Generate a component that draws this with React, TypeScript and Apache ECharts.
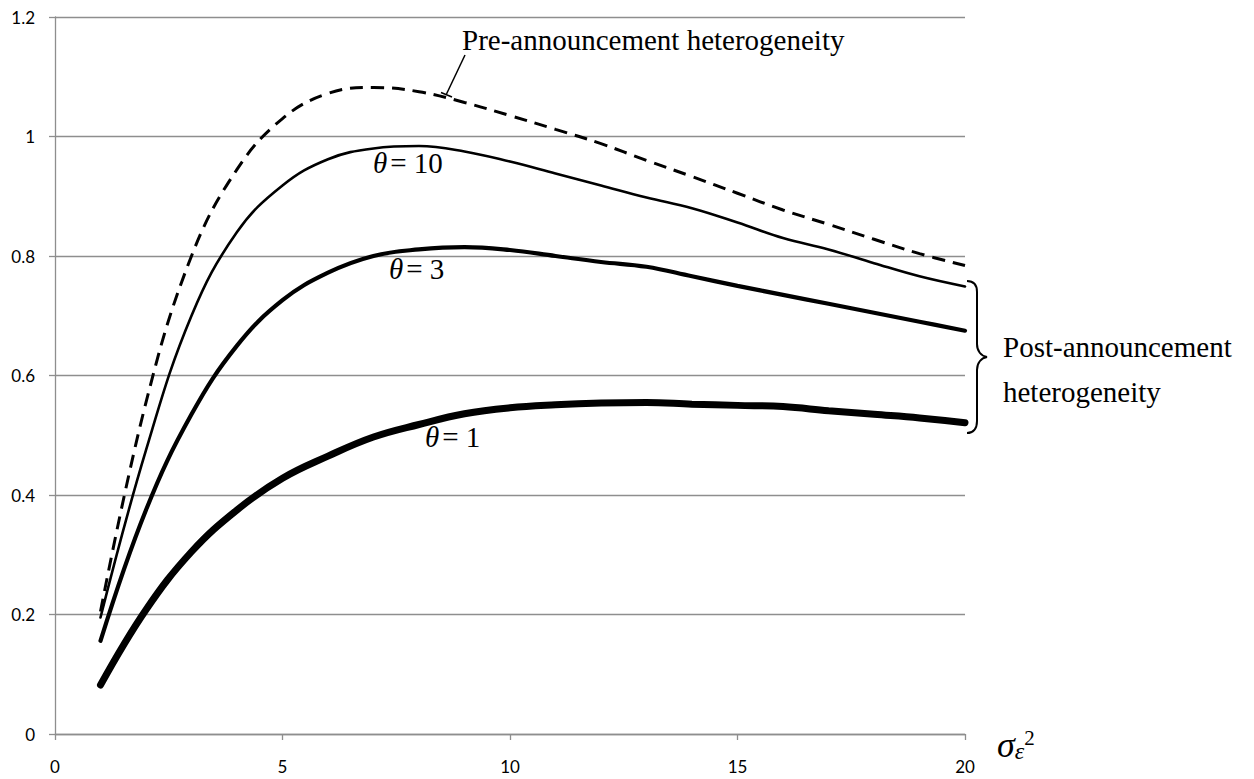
import React, { useEffect, useRef } from "react";
import * as echarts from "echarts";

const xValues = [1, 2, 3, 4, 5, 6, 7, 8, 9, 10, 11, 12, 13, 14, 15, 16, 17, 18, 19, 20];
const preAnnouncement = [0.205, 0.555, 0.8, 0.945, 1.03, 1.072, 1.082, 1.075, 1.057, 1.035, 1.012, 0.988, 0.96, 0.933, 0.905, 0.877, 0.853, 0.828, 0.804, 0.784];
const theta10 = [0.195, 0.475, 0.7, 0.84, 0.918, 0.962, 0.98, 0.984, 0.975, 0.958, 0.938, 0.918, 0.898, 0.88, 0.856, 0.83, 0.811, 0.788, 0.766, 0.749];
const theta3 = [0.156, 0.375, 0.535, 0.65, 0.726, 0.772, 0.8, 0.811, 0.815, 0.81, 0.8, 0.79, 0.782, 0.766, 0.75, 0.735, 0.72, 0.705, 0.69, 0.675];
const theta1 = [0.082, 0.208, 0.305, 0.375, 0.428, 0.465, 0.497, 0.518, 0.536, 0.546, 0.551, 0.554, 0.555, 0.552, 0.55, 0.548, 0.541, 0.535, 0.529, 0.521];

const BRACE_D =
  "M 967 281 C 973 281 977 284 977 292 L 977 344 C 977 351 981 356 987 357 C 981 358 977 363 977 370 L 977 421 C 977 429 973 433 967 433";

let braceRegistered = false;
function registerBrace() {
  if (braceRegistered) return;
  echarts.graphic.registerShape("brace", echarts.graphic.extendPath(BRACE_D, {}));
  braceRegistered = true;
}

const SERIF = "Liberation Serif";
const SANS = "Lato";
const GRID_GRAY = "#8e8e8e";

function toPairs(ys: number[]) {
  return xValues.map((x, i) => [x, ys[i]]);
}

function thetaLabel(value: string, left: number, centerY: number) {
  return {
    type: "text",
    x: left,
    y: centerY,
    style: {
      text: "{i|θ}{n|= " + value + "}",
      verticalAlign: "middle",
      align: "left",
      rich: {
        i: { fontFamily: SERIF, fontSize: 29, fontStyle: "italic", fill: "#000", padding: [0, 3, 0, 0] },
        n: { fontFamily: SERIF, fontSize: 29, fill: "#000" },
      },
    },
  };
}

function serifText(text: string, left: number, centerY: number) {
  return {
    type: "text",
    x: left,
    y: centerY,
    style: {
      text,
      fontFamily: SERIF,
      fontSize: 29,
      fill: "#000",
      verticalAlign: "middle",
      align: "left",
    },
  };
}

export default function App() {
  const ref = useRef<HTMLDivElement>(null);

  useEffect(() => {
    if (!ref.current) return;
    registerBrace();
    const chart = echarts.init(ref.current, null, { renderer: "svg" });
    const lineBase = { type: "line", symbol: "none", smooth: 0.4 };
    const option: any = {
      animation: false,
      backgroundColor: "#fff",
      grid: { left: 55, right: 289, top: 17, bottom: 45, containLabel: false },
      xAxis: {
        type: "value",
        min: 0,
        max: 20,
        interval: 5,
        axisLine: { show: true, lineStyle: { color: GRID_GRAY, width: 1.3 } },
        axisTick: { show: true, length: 6, inside: false, lineStyle: { color: GRID_GRAY, width: 1.3 } },
        splitLine: { show: false },
        axisLabel: { fontFamily: SANS, fontSize: 17, color: "#000", margin: 24 },
      },
      yAxis: {
        type: "value",
        min: 0,
        max: 1.2,
        interval: 0.2,
        axisLine: { show: true, lineStyle: { color: GRID_GRAY, width: 1.3 } },
        axisTick: { show: true, length: 6, inside: false, lineStyle: { color: GRID_GRAY, width: 1.3 } },
        splitLine: { show: true, lineStyle: { color: GRID_GRAY, width: 1.3 } },
        axisLabel: { fontFamily: SANS, fontSize: 17, color: "#000", margin: 20, padding: [6, 0, 0, 0] },
      },
      series: [
        { ...lineBase, data: toPairs(theta1), lineStyle: { color: "#000", width: 7, cap: "round" }, z: 2 },
        { ...lineBase, data: toPairs(theta3), lineStyle: { color: "#000", width: 4.2, cap: "round" }, z: 3 },
        { ...lineBase, data: toPairs(theta10), lineStyle: { color: "#000", width: 2.6, cap: "round" }, z: 4 },
        { ...lineBase, data: toPairs(preAnnouncement), lineStyle: { color: "#000", width: 3, type: [13, 8] }, z: 5 },
      ],
      graphic: [
        serifText("Pre-announcement heterogeneity", 462, 40),
        {
          type: "line",
          shape: { x1: 465, y1: 55, x2: 446.5, y2: 94 },
          style: { stroke: "#000", lineWidth: 1.5 },
        },
        {
          type: "line",
          shape: { x1: 441, y1: 92.5, x2: 452, y2: 97 },
          style: { stroke: "#000", lineWidth: 1.5 },
        },
        thetaLabel("10", 373, 163),
        thetaLabel("3", 389, 268.5),
        thetaLabel("1", 425, 437),
        {
          type: "brace",
          x: 0,
          y: 0,
          style: { stroke: "#000", fill: null, lineWidth: 2 },
        },
        serifText("Post-announcement", 1003, 347),
        serifText("heterogeneity", 1003, 392),
        {
          type: "text",
          x: 997,
          y: 727,
          style: {
            text: "{s|σ}{e|ε}{t|2}",
            verticalAlign: "top",
            align: "left",
            rich: {
              s: { fontFamily: SERIF, fontSize: 36, fontStyle: "italic", lineHeight: 36, fill: "#000" },
              e: { fontFamily: SERIF, fontSize: 24, fontStyle: "italic", lineHeight: 22, verticalAlign: "bottom", fill: "#000" },
              t: { fontFamily: SERIF, fontSize: 21, lineHeight: 14, verticalAlign: "top", fill: "#000" },
            },
          },
        },
      ],
    };
    chart.setOption(option);
    return () => {
      chart.dispose();
    };
  }, []);

  return (
    <div
      ref={ref}
      style={{ position: "fixed", left: 0, top: 0, width: 1254, height: 779, background: "#fff" }}
    />
  );
}
